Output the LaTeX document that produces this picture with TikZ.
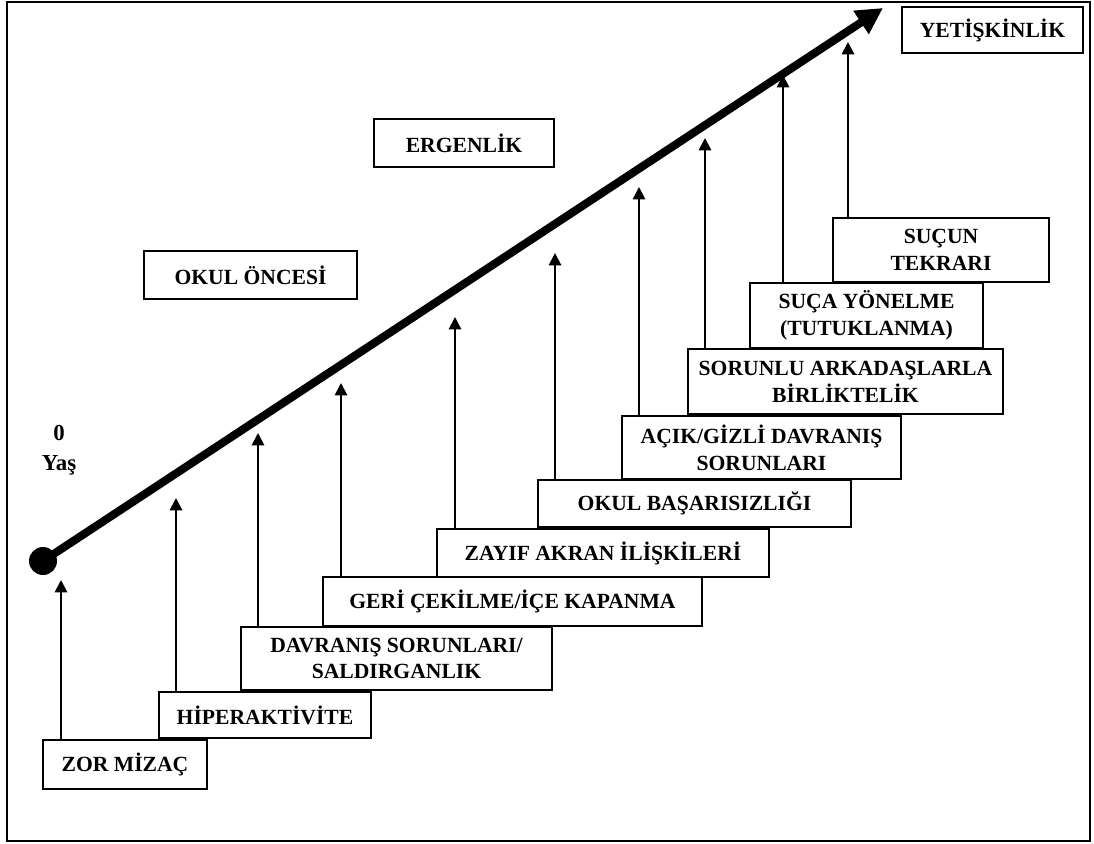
\documentclass[tikz,border=0pt]{standalone}
\usepackage{fontspec}
\setmainfont{Liberation Serif}
\usetikzlibrary{arrows.meta}

\begin{document}
\begin{tikzpicture}[
    x=0.02cm, y=-0.02cm, % one unit is one pixel, y grows downwards
    stepbox/.style={
        draw, % frame round each stage
        line width=1.2pt,
        fill=white,
        align=center, % centre the lines of text
        inner sep=2pt,
        font=\bfseries\fontsize{12.3}{15.3}\selectfont
    },
    riser/.style={draw, line width=1.1pt, -{Triangle[width=7pt,length=7pt]}},
    lifeline/.style={draw, line width=4.6pt, -{Triangle[width=15pt,length=15pt]}}
]
\useasboundingbox (0,0) rectangle (1094,844);
\draw[line width=1.2pt] (7,2) rectangle (1090,841); % outer frame

% stages of development
\node[stepbox, minimum width=3.62cm, minimum height=0.92cm] (adult) at (992.5,30) {YETİŞKİNLİK};
\node[stepbox, minimum width=3.60cm, minimum height=0.96cm] (teen) at (464,143) {ERGENLİK};
\node[stepbox, minimum width=4.26cm, minimum height=0.96cm] (preschool) at (250.5,275) {OKUL ÖNCESİ};
\node[font=\bfseries\fontsize{13}{17}\selectfont, align=center] (age) at (59,450) {0\\Yaş};

% the staircase
\node[stepbox, minimum width=3.28cm, minimum height=0.98cm] (temper) at (125,764.5) {ZOR MİZAÇ};
\node[stepbox, minimum width=4.24cm, minimum height=0.92cm] (hyper) at (265,715) {HİPERAKTİVİTE};
\node[stepbox, minimum width=6.22cm, minimum height=1.26cm] (aggress) at (396.5,658.5) {DAVRANIŞ SORUNLARI/\\SALDIRGANLIK};
\node[stepbox, minimum width=7.58cm, minimum height=0.98cm] (withdraw) at (512.5,601.5) {GERİ ÇEKİLME/İÇE KAPANMA};
\node[stepbox, minimum width=6.64cm, minimum height=0.96cm] (peers) at (603,553) {ZAYIF AKRAN İLİŞKİLERİ};
\node[stepbox, minimum width=6.26cm, minimum height=0.94cm] (school) at (694.5,503.5) {OKUL BAŞARISIZLIĞI};
\node[stepbox, minimum width=5.58cm, minimum height=1.26cm] (conduct) at (761.5,447.5) {AÇIK/GİZLİ DAVRANIŞ\\SORUNLARI};
\node[stepbox, minimum width=6.30cm, minimum height=1.30cm] (friends) at (845.5,381.5) {SORUNLU ARKADAŞLARLA\\BİRLİKTELİK};
\node[stepbox, minimum width=4.66cm, minimum height=1.30cm] (crime) at (866.5,315.5) {SUÇA YÖNELME\\(TUTUKLANMA)};
\node[stepbox, minimum width=4.32cm, minimum height=1.28cm] (repeat) at (941,250) {SUÇUN\\TEKRARI};

% age line
\node[circle, fill, minimum size=0.56cm, inner sep=0pt] (birth) at (43,561) {};
\coordinate (grownup) at (883,8);
\draw[lifeline] (birth.center) -- (grownup);

% arrow tips under the age line
\coordinate (t1) at (61,580);
\coordinate (t2) at (176,498);
\coordinate (t3) at (258,433);
\coordinate (t4) at (341,383);
\coordinate (t5) at (455,317);
\coordinate (t6) at (555,253);
\coordinate (t7) at (639,187);
\coordinate (t8) at (705,138);
\coordinate (t9) at (783,75);
\coordinate (t10) at (848,42);

\draw[riser] (temper.north -| t1) -- (t1);
\draw[riser] (hyper.north -| t2) -- (t2);
\draw[riser] (aggress.north -| t3) -- (t3);
\draw[riser] (withdraw.north -| t4) -- (t4);
\draw[riser] (peers.north -| t5) -- (t5);
\draw[riser] (school.north -| t6) -- (t6);
\draw[riser] (conduct.north -| t7) -- (t7);
\draw[riser] (friends.north -| t8) -- (t8);
\draw[riser] (crime.north -| t9) -- (t9);
\draw[riser] (repeat.north -| t10) -- (t10);
\end{tikzpicture}
\end{document}
